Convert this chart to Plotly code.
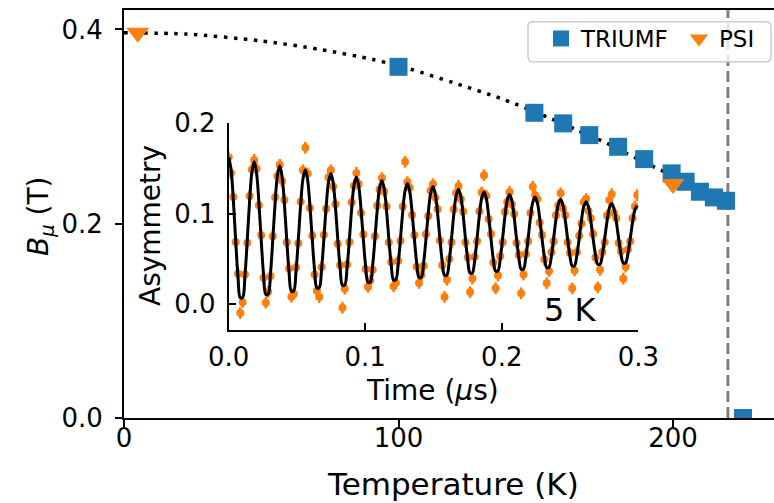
import plotly.graph_objects as go

# ---------------- data ----------------
temp_triumf = [100, 149.5, 160, 169.5, 180, 189.5, 199.5, 204.6, 209.8, 214.9, 219.3, 225.5]
b_triumf = [0.3615, 0.3142, 0.3033, 0.2912, 0.2792, 0.2665, 0.2518, 0.2432, 0.2329, 0.2271, 0.2236, 0.0]
temp_psi = [5, 200]
b_psi = [0.3965, 0.2408]

curve_T = [0, 22.8, 49.5, 71.4, 90.8, 104.2, 120, 138.2, 155.4, 165.6, 176, 186.2, 193.4, 200, 207, 214, 219]
curve_B = [0.3965, 0.3952, 0.3883, 0.3794, 0.369, 0.3592, 0.3451, 0.328, 0.3084, 0.2957, 0.2827,
           0.2679, 0.258, 0.2495, 0.2395, 0.2295, 0.222]
T_c = 220

time_us = [
    0.0000, 0.0017, 0.0034, 0.0051, 0.0068, 0.0085, 0.0102, 0.0119, 0.0136, 0.0153, 0.0170,
    0.0187, 0.0204, 0.0221, 0.0238, 0.0255, 0.0272, 0.0289, 0.0306, 0.0323, 0.0340, 0.0357,
    0.0374, 0.0391, 0.0408, 0.0425, 0.0442, 0.0459, 0.0476, 0.0493, 0.0510, 0.0527, 0.0544,
    0.0561, 0.0578, 0.0595, 0.0612, 0.0629, 0.0646, 0.0663, 0.0680, 0.0697, 0.0714, 0.0731,
    0.0748, 0.0765, 0.0782, 0.0799, 0.0816, 0.0833, 0.0850, 0.0867, 0.0884, 0.0901, 0.0918,
    0.0935, 0.0952, 0.0969, 0.0986, 0.1003, 0.1020, 0.1037, 0.1054, 0.1071, 0.1088, 0.1105,
    0.1122, 0.1139, 0.1156, 0.1173, 0.1190, 0.1207, 0.1224, 0.1241, 0.1258, 0.1275, 0.1292,
    0.1309, 0.1326, 0.1343, 0.1360, 0.1377, 0.1394, 0.1411, 0.1428, 0.1445, 0.1462, 0.1479,
    0.1496, 0.1513, 0.1530, 0.1547, 0.1564, 0.1581, 0.1598, 0.1615, 0.1632, 0.1649, 0.1666,
    0.1683, 0.1700, 0.1717, 0.1734, 0.1751, 0.1768, 0.1785, 0.1802, 0.1819, 0.1836, 0.1853,
    0.1870, 0.1887, 0.1904, 0.1921, 0.1938, 0.1955, 0.1972, 0.1989, 0.2006, 0.2023, 0.2040,
    0.2057, 0.2074, 0.2091, 0.2108, 0.2125, 0.2142, 0.2159, 0.2176, 0.2193, 0.2210, 0.2227,
    0.2244, 0.2261, 0.2278, 0.2295, 0.2312, 0.2329, 0.2346, 0.2363, 0.2380, 0.2397, 0.2414,
    0.2431, 0.2448, 0.2465, 0.2482, 0.2499, 0.2516, 0.2533, 0.2550, 0.2567, 0.2584, 0.2601,
    0.2618, 0.2635, 0.2652, 0.2669, 0.2686, 0.2703, 0.2720, 0.2737, 0.2754, 0.2771, 0.2788,
    0.2805, 0.2822, 0.2839, 0.2856, 0.2873, 0.2890, 0.2907, 0.2924, 0.2941, 0.2958, 0.2975,
    0.2992,
]

asymmetry = [
    0.1623, 0.1449, 0.1185, 0.0687, 0.0336, -0.0100, 0.0020, 0.0326, 0.0677, 0.1195, 0.1489,
    0.1595, 0.1498, 0.1092, 0.0760, 0.0290, 0.0015, 0.0135, 0.0310, 0.0750, 0.1182, 0.1418,
    0.1541, 0.1360, 0.1152, 0.0683, 0.0394, 0.0081, 0.0111, 0.0404, 0.0673, 0.1132, 0.1480,
    0.1729, 0.1444, 0.1063, 0.0755, 0.0327, 0.0146, 0.0076, 0.0407, 0.0765, 0.1053, 0.1404,
    0.1479, 0.1300, 0.1105, 0.0667, 0.0428, -0.0042, 0.0168, 0.0438, 0.0687, 0.1125, 0.1310,
    0.1451, 0.1328, 0.1007, 0.0769, 0.0388, 0.0189, 0.0259, 0.0378, 0.0749, 0.1087, 0.1268,
    0.1394, 0.1246, 0.1080, 0.0680, 0.0466, 0.0196, 0.0236, 0.0476, 0.0700, 0.1080, 0.1574,
    0.1350, 0.1287, 0.0984, 0.0761, 0.0413, 0.0233, 0.0323, 0.0423, 0.0771, 0.0974, 0.1257,
    0.1328, 0.1179, 0.1049, 0.0703, 0.0429, 0.0078, 0.0268, 0.0499, 0.0683, 0.1049, 0.1229,
    0.1307, 0.1163, 0.1024, 0.0684, 0.0514, 0.0132, 0.0282, 0.0524, 0.0694, 0.1024, 0.1233,
    0.1425, 0.1198, 0.0940, 0.0774, 0.0458, 0.0174, 0.0314, 0.0528, 0.0684, 0.1020, 0.1128,
    0.1240, 0.1104, 0.0997, 0.0675, 0.0542, 0.0118, 0.0325, 0.0552, 0.0695, 0.1007, 0.1298,
    0.1203, 0.1161, 0.0903, 0.0764, 0.0493, 0.0230, 0.0363, 0.0573, 0.0694, 0.0983, 0.1091,
    0.1225, 0.1059, 0.0981, 0.0684, 0.0564, 0.0174, 0.0371, 0.0574, 0.0754, 0.0891, 0.1129,
    0.1164, 0.1028, 0.0949, 0.0774, 0.0515, 0.0185, 0.0378, 0.0575, 0.0684, 0.0979, 0.1150,
    0.1215, 0.1009, 0.0948, 0.0674, 0.0584, 0.0280, 0.0413, 0.0604, 0.0694, 0.0948, 0.1079,
    0.1206,
]
asym_err = 0.0065

fit_curve = [
    0.1623, 0.1492, 0.1150, 0.0706, 0.0303, 0.0067, 0.0071, 0.0311, 0.0709, 0.1138, 0.1462,
    0.1574, 0.1450, 0.1127, 0.0709, 0.0328, 0.0105, 0.0109, 0.0335, 0.0712, 0.1116, 0.1422,
    0.1529, 0.1412, 0.1106, 0.0712, 0.0352, 0.0141, 0.0144, 0.0359, 0.0715, 0.1096, 0.1385,
    0.1486, 0.1375, 0.1087, 0.0714, 0.0375, 0.0176, 0.0179, 0.0381, 0.0716, 0.1077, 0.1350,
    0.1445, 0.1341, 0.1069, 0.0716, 0.0396, 0.0208, 0.0211, 0.0402, 0.0718, 0.1060, 0.1317,
    0.1406, 0.1308, 0.1051, 0.0718, 0.0416, 0.0239, 0.0242, 0.0422, 0.0720, 0.1042, 0.1285,
    0.1368, 0.1275, 0.1034, 0.0719, 0.0434, 0.0266, 0.0269, 0.0440, 0.0721, 0.1025, 0.1254,
    0.1333, 0.1246, 0.1017, 0.0720, 0.0451, 0.0293, 0.0295, 0.0456, 0.0722, 0.1010, 0.1226,
    0.1301, 0.1217, 0.1002, 0.0722, 0.0467, 0.0318, 0.0320, 0.0472, 0.0724, 0.0995, 0.1198,
    0.1269, 0.1191, 0.0987, 0.0723, 0.0482, 0.0342, 0.0344, 0.0487, 0.0725, 0.0980, 0.1173,
    0.1240, 0.1166, 0.0973, 0.0723, 0.0497, 0.0364, 0.0366, 0.0501, 0.0725, 0.0966, 0.1148,
    0.1211, 0.1141, 0.0960, 0.0724, 0.0511, 0.0385, 0.0387, 0.0515, 0.0726, 0.0954, 0.1125,
    0.1183, 0.1118, 0.0946, 0.0723, 0.0522, 0.0403, 0.0405, 0.0526, 0.0725, 0.0940, 0.1103,
    0.1158, 0.1095, 0.0933, 0.0723, 0.0533, 0.0421, 0.0423, 0.0536, 0.0725, 0.0928, 0.1081,
    0.1133, 0.1074, 0.0921, 0.0724, 0.0544, 0.0438, 0.0440, 0.0547, 0.0725, 0.0916, 0.1061,
    0.1111, 0.1055, 0.0910, 0.0724, 0.0553, 0.0453, 0.0455, 0.0556, 0.0725, 0.0905, 0.1042,
    0.1089,
]

main_xticks = [0, 100, 200]
main_yticks = [0.0, 0.2, 0.4]
main_yticktext = ["0.0", "0.2", "0.4"]
inset_xticks = [0.0, 0.1, 0.2, 0.3]
inset_xticktext = ["0.0", "0.1", "0.2", "0.3"]
inset_yticks = [0.0, 0.1, 0.2]
inset_yticktext = ["0.0", "0.1", "0.2"]

# ---------------- layout geometry (pixels) ----------------
W, H = 774, 503
PL, PR, PT, PB = 124, 774, 10, 418


def fx(px):
    return (px - PL) / (PR - PL)


def fy(py):
    return (PB - py) / (PB - PT)


BLUE = "#1f77b4"
ORANGE = "#ff7f0e"
FONT = "DejaVu Sans"

fig = go.Figure()

fig.add_trace(go.Scatter(
    x=curve_T, y=curve_B, mode="lines", showlegend=False,
    line=dict(color="black", width=3.5, dash="3.5px,6.5px", shape="spline", smoothing=0.8),
    xaxis="x", yaxis="y", hoverinfo="skip"))
fig.add_trace(go.Scatter(
    x=temp_triumf, y=b_triumf, mode="markers", name="TRIUMF",
    marker=dict(symbol="square", size=18, color=BLUE, line=dict(width=0)),
    xaxis="x", yaxis="y", cliponaxis=True))
fig.add_trace(go.Scatter(
    x=temp_psi, y=b_psi, mode="markers", name="PSI",
    marker=dict(symbol="triangle-down", size=20, color=ORANGE, line=dict(width=0)),
    xaxis="x", yaxis="y", cliponaxis=True))

fig.add_trace(go.Scatter(
    x=time_us, y=asymmetry, mode="markers", showlegend=False,
    marker=dict(symbol="circle", size=8, color=ORANGE, line=dict(width=0)),
    error_y=dict(type="constant", value=asym_err, color=ORANGE, thickness=2.5, width=0),
    xaxis="x2", yaxis="y2"))
fig.add_trace(go.Scatter(
    x=time_us, y=fit_curve, mode="lines", showlegend=False,
    line=dict(color="black", width=3, shape="spline", smoothing=1.0),
    xaxis="x2", yaxis="y2"))

# vertical dashed line at the transition temperature
fig.add_shape(type="line", xref="x", yref="paper", x0=T_c, x1=T_c, y0=0, y1=1,
              line=dict(color="rgba(0,0,0,0.5)", width=3, dash="11px,5px"), layer="below")

# legend frame (rounded, semi-transparent)
bx0, bx1, by0, by1 = fx(528), fx(771), fy(61.7), fy(21.7)
rx, ry = 5 / (PR - PL), 5 / (PB - PT)
frame_path = (f"M {bx0 + rx},{by1} L {bx1 - rx},{by1} Q {bx1},{by1} {bx1},{by1 - ry} "
              f"L {bx1},{by0 + ry} Q {bx1},{by0} {bx1 - rx},{by0} "
              f"L {bx0 + rx},{by0} Q {bx0},{by0} {bx0},{by0 + ry} "
              f"L {bx0},{by1 - ry} Q {bx0},{by1} {bx0 + rx},{by1} Z")
fig.add_shape(type="path", xref="paper", yref="paper", path=frame_path,
              fillcolor="rgba(255,255,255,0.8)", line=dict(color="#cccccc", width=1.5),
              layer="above")

tickfont = dict(family=FONT, size=26, color="black")
common_axis = dict(showgrid=False, zeroline=False, showline=True, linecolor="black",
                   linewidth=2, tickcolor="black", tickwidth=2, tickfont=tickfont)

fig.update_layout(
    width=W, height=H,
    margin=dict(l=PL, r=W - PR, t=PT, b=H - PB, pad=0, autoexpand=False),
    paper_bgcolor="white", plot_bgcolor="rgba(0,0,0,0)",
    font=dict(family=FONT, color="black"),
    xaxis=dict(range=[0, (PR - PL) / 2.745], tickvals=main_xticks, ticks="outside", ticklen=7,
               mirror=True, domain=[0, 1], anchor="y", ticklabelstandoff=-11,
               automargin=False, **common_axis),
    yaxis=dict(range=[0, 0.42], tickvals=main_yticks, ticktext=main_yticktext, ticks="outside",
               ticklen=7, domain=[0, 1], anchor="x", ticklabelstandoff=7,
               automargin=False, **common_axis),
    xaxis2=dict(range=[0, 0.3], tickvals=inset_xticks, ticktext=inset_xticktext, ticks="inside",
                ticklen=7, domain=[fx(228.7), fx(638.3)], anchor="y2", ticklabelstandoff=3,
                automargin=False, **common_axis),
    yaxis2=dict(range=[-0.0288, 0.2], tickvals=inset_yticks, ticktext=inset_yticktext,
                ticks="inside", ticklen=7, domain=[fy(330), fy(123.3)], anchor="x2",
                ticklabelstandoff=6, automargin=False, **common_axis),
    legend=dict(orientation="h", x=fx(541), y=fy(17), xanchor="left", yanchor="top",
                bgcolor="rgba(0,0,0,0)", borderwidth=0,
                font=dict(family=FONT, size=23, color="black"), itemwidth=30,
                entrywidth=93, entrywidthmode="pixels", tracegroupgap=0),
    showlegend=True,
)

fig.add_annotation(text="Temperature (K)", xref="paper", yref="paper", x=fx(453), y=fy(484),
                   showarrow=False, xanchor="center", yanchor="middle",
                   font=dict(family=FONT, size=31, color="black"))
fig.add_annotation(text="<i>B</i><sub><i>μ</i></sub> (T)", xref="paper", yref="paper",
                   x=fx(40), y=fy(216), showarrow=False, textangle=-90,
                   xanchor="center", yanchor="middle",
                   font=dict(family=FONT, size=28, color="black"))
fig.add_annotation(text="Time (<i>μ</i>s)", xref="paper", yref="paper", x=fx(432), y=fy(390),
                   showarrow=False, xanchor="center", yanchor="middle",
                   font=dict(family=FONT, size=28, color="black"))
fig.add_annotation(text="Asymmetry", xref="paper", yref="paper", x=fx(150), y=fy(226),
                   showarrow=False, textangle=-90, xanchor="center", yanchor="middle",
                   font=dict(family=FONT, size=28, color="black"))
fig.add_annotation(text="5 K", xref="x2", yref="y2", x=0.2504, y=-0.0066,
                   showarrow=False, xanchor="center", yanchor="middle",
                   font=dict(family=FONT, size=32, color="black"))

fig.write_html("out.html")
